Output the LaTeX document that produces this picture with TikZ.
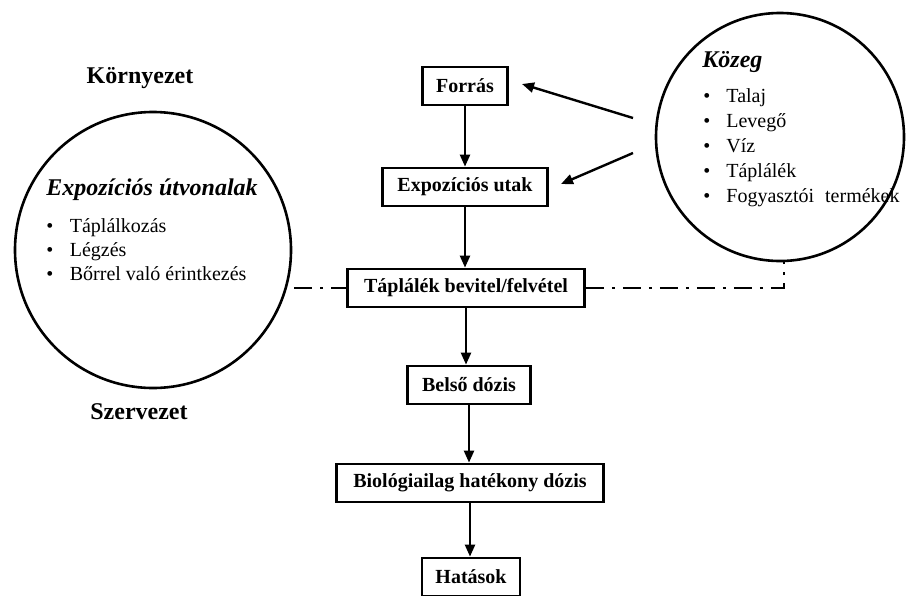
\documentclass[tikz,border=0pt]{standalone}
\usepackage{fontspec}
\setmainfont{Liberation Serif}
\usetikzlibrary{arrows.meta}
\begin{document}
\begin{tikzpicture}[x=0.5pt,y=-0.5pt,
 box/.style={draw,line width=1.4pt,font=\fontsize{10}{12}\selectfont\bfseries,inner sep=0pt,minimum height=19pt},
 arr/.style={line width=1.2pt,-{Triangle[length=6pt,width=5pt]}},
 circ/.style={draw,line width=1.3pt,circle,inner sep=0pt},
 item/.style={anchor=west,inner sep=0pt,font=\fontsize{10}{12}\selectfont,text height=7pt,text depth=2pt},
 head/.style={inner sep=0pt,font=\fontsize{12}{14}\selectfont\bfseries},
 ddline/.style={line width=1.2pt,dash pattern=on 9pt off 4pt on 1.5pt off 4pt}]
\useasboundingbox (0,0) rectangle (908,595);
% circles
\node[circ,minimum size=138pt] (lc) at (153,250) {};
\node[circ,minimum size=124pt] (rc) at (780,137) {};
% labels
\node[head] (korny) at (140,78) {Környezet};
\node[head] (szerv) at (139,412) {Szervezet};
\node[head,font=\fontsize{12}{14}\selectfont\bfseries\itshape] (lh) at (152,190) {Expozíciós útvonalak};
\node[head,font=\fontsize{12}{14}\selectfont\bfseries\itshape,anchor=west] (rh) at (702,62) {Közeg};
% left list
\node[item] (l1) at (46,227) {\makebox[11.75pt][l]{\textbullet}Táplálkozás};
\node[item] (l2) at (46,251) {\makebox[11.75pt][l]{\textbullet}Légzés};
\node[item] (l3) at (46,275) {\makebox[11.75pt][l]{\textbullet}Bőrrel való érintkezés};
% right list
\node[item] (r1) at (703,97) {\makebox[11.5pt][l]{\textbullet}Talaj};
\node[item] (r2) at (703,122) {\makebox[11.5pt][l]{\textbullet}Levegő};
\node[item] (r3) at (703,147) {\makebox[11.5pt][l]{\textbullet}Víz};
\node[item] (r4) at (703,172) {\makebox[11.5pt][l]{\textbullet}Táplálék};
\node[item] (r5) at (703,197) {\makebox[11.5pt][l]{\textbullet}Fogyasztói\hspace{3pt} termékek};
% boxes
\node[box,minimum width=42.5pt] (forras) at (465,86) {Forrás};
\node[box,minimum width=82.5pt] (expo) at (465,187) {Expozíciós utak};
\node[box,minimum width=118.5pt] (tap) at (466,288) {Táplálék bevitel/felvétel};
\node[box,minimum width=61.5pt] (belso) at (469,385) {Belső dózis};
\node[box,minimum width=133.5pt] (bio) at (470,483) {Biológiailag hatékony dózis};
\node[box,minimum width=49pt] (hat) at (471,577) {Hatások};
% arrows
\draw[arr] (forras.south) -- (expo.north);
\draw[arr] (expo.south) -- (expo.south |- tap.north);
\draw[arr] (tap.south) -- (tap.south |- belso.north);
\draw[arr] (belso.south) -- (belso.south |- bio.north);
\draw[arr] (bio.south) -- (bio.south |- hat.north);
\coordinate (s1) at (633,118);
\coordinate (s2) at (633,153);
\coordinate (t1) at (522,84);
\coordinate (t2) at (561,184);
\draw[arr] (s1) -- (t1);
\draw[arr] (s2) -- (t2);
% dash-dot line
\coordinate (dl) at (294,288);
\coordinate (dr) at (784,288);
\draw[ddline] (dl) -- (tap.west);
\draw[ddline] (tap.east) -- (dr) -- (dr |- rc.south);
\end{tikzpicture}
\end{document}
